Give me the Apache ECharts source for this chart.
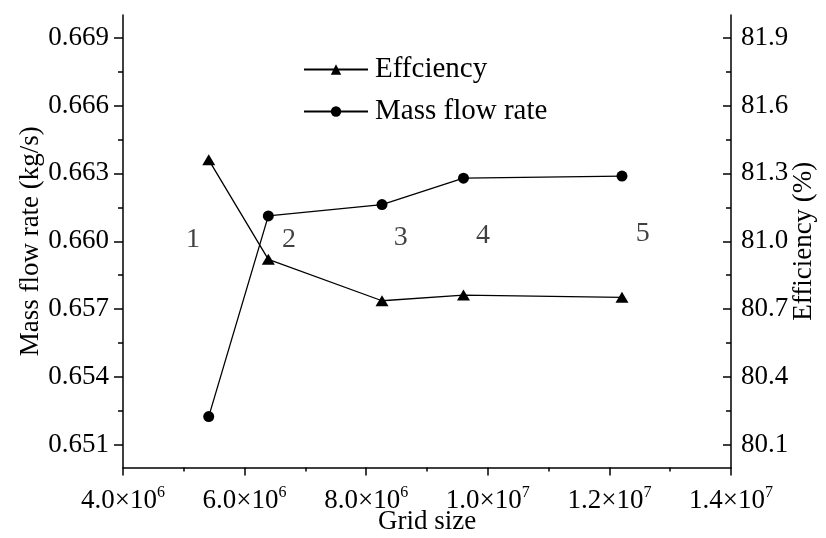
<!DOCTYPE html>
<html><head><meta charset="utf-8">
<script src="https://cdn.jsdelivr.net/npm/echarts@6/dist/echarts.min.js"></script>
<style>html,body{margin:0;padding:0;background:#fff}#c{width:826px;height:538px}</style>
</head><body><div id="c"></div>
<script>
// ---- data ----
const gridSize   = [5.41e6, 6.39e6, 8.26e6, 9.60e6, 1.2207e7];
const massFlow   = [0.65225, 0.66112, 0.66162, 0.66279, 0.66288];
const efficiency = [81.36, 80.92, 80.737, 80.762, 80.752];
const caseLabels = ['1', '2', '3', '4', '5'];
const caseLabelX = [5.15e6, 6.73e6, 8.57e6, 9.92e6, 1.255e7];
const caseLabelY = [0.66009, 0.66009, 0.66016, 0.66026, 0.66034];
const massTicks      = [0.651, 0.654, 0.657, 0.660, 0.663, 0.666, 0.669];
const massMinorTicks = [0.6525, 0.6555, 0.6585, 0.6615, 0.6645, 0.6675];
const effTicks       = [80.1, 80.4, 80.7, 81.0, 81.3, 81.6, 81.9];
const effMinorTicks  = [80.25, 80.55, 80.85, 81.15, 81.45, 81.75];

const FONT = '"Liberation Serif", "Times New Roman", serif';
const BLACK = '#000';

function sciLabel(v) {
  const e = Math.floor(Math.log10(v) + 1e-9);
  const m = (v / Math.pow(10, e)).toFixed(1);
  return m + '×10{s|' + e + '}';
}

const chart = echarts.init(document.getElementById('c'), null, {renderer: 'canvas'});
const axisLineStyle = {color: BLACK, width: 1.5};

const option = {
  backgroundColor: '#fff',
  animation: false,
  grid: {left: 123, right: 95, top: 15, bottom: 70.5, containLabel: false, outerBoundsMode: 'none'},
  legend: {
    data: ['Effciency', 'Mass flow rate'],
    orient: 'vertical',
    left: 298, top: 50,
    itemWidth: 64, itemHeight: 13, itemGap: 13,
    textStyle: {fontFamily: FONT, fontSize: 29, color: BLACK, padding: [0, 0, 0, 2]}
  },
  xAxis: {
    type: 'value', min: 4e6, max: 1.4e7, interval: 2e6,
    name: 'Grid size', nameLocation: 'middle', nameGap: 41, nameMoveOverlap: false,
    nameTextStyle: {fontFamily: FONT, fontSize: 27, color: BLACK},
    axisLine: {show: true, lineStyle: axisLineStyle},
    axisTick: {show: true, length: 8, lineStyle: {color: BLACK, width: 1.5}},
    minorTick: {show: true, splitNumber: 2, length: 4, lineStyle: {color: BLACK, width: 1.5}},
    splitLine: {show: false},
    axisLabel: {
      margin: 17, fontFamily: FONT, fontSize: 27, color: BLACK,
      formatter: sciLabel,
      rich: {s: {fontFamily: FONT, fontSize: 16, color: BLACK, padding: [0, 0, 17, 0]}}
    }
  },
  yAxis: [
    {
      type: 'value', position: 'left', min: 0.650, max: 0.670,
      name: 'Mass flow rate (kg/s)', nameLocation: 'middle', nameGap: 79, nameMoveOverlap: false,
      nameTextStyle: {fontFamily: FONT, fontSize: 27, color: BLACK},
      axisLine: {show: true, lineStyle: axisLineStyle},
      axisTick: {show: true, length: 9, customValues: massTicks, lineStyle: {color: BLACK, width: 1.5}},
      axisLabel: {show: true, customValues: massTicks, margin: 14, fontFamily: FONT, fontSize: 27, color: BLACK,
        formatter: v => v.toFixed(3)},
      splitLine: {show: false}
    },
    {
      type: 'value', position: 'right', min: 80.0, max: 82.0,
      name: 'Efficiency (%)', nameLocation: 'middle', nameGap: 59, nameMoveOverlap: false,
      nameTextStyle: {fontFamily: FONT, fontSize: 27, color: BLACK},
      axisLine: {show: true, lineStyle: axisLineStyle},
      axisTick: {show: true, inside: true, length: 8, customValues: effTicks, lineStyle: {color: BLACK, width: 1.5}},
      axisLabel: {show: true, customValues: effTicks, margin: 10, fontFamily: FONT, fontSize: 27, color: BLACK,
        formatter: v => v.toFixed(1)},
      splitLine: {show: false}
    },
    {
      type: 'value', position: 'left', offset: 0, min: 0.650, max: 0.670,
      axisLine: {show: false},
      axisTick: {show: true, length: 5, customValues: massMinorTicks, lineStyle: {color: BLACK, width: 1.5}},
      axisLabel: {show: false},
      splitLine: {show: false}
    },
    {
      type: 'value', position: 'right', offset: 0, min: 80.0, max: 82.0,
      axisLine: {show: false},
      axisTick: {show: true, inside: true, length: 5, customValues: effMinorTicks, lineStyle: {color: BLACK, width: 1.5}},
      axisLabel: {show: false},
      splitLine: {show: false}
    }
  ],
  series: [
    {
      name: 'Effciency', type: 'line', yAxisIndex: 1,
      data: gridSize.map((x, i) => [x, efficiency[i]]),
      symbol: 'triangle', symbolSize: [13, 11],
      lineStyle: {color: BLACK, width: 1.3},
      itemStyle: {color: BLACK},
      z: 3
    },
    {
      name: 'Mass flow rate', type: 'line', yAxisIndex: 0,
      data: gridSize.map((x, i) => [x, massFlow[i]]),
      symbol: 'circle', symbolSize: 11,
      lineStyle: {color: BLACK, width: 1.3},
      itemStyle: {color: BLACK},
      z: 3
    },
    {
      name: 'cases', type: 'scatter', yAxisIndex: 0, silent: true,
      symbolSize: 1, itemStyle: {color: 'rgba(0,0,0,0)'},
      data: caseLabelX.map((x, i) => ({value: [x, caseLabelY[i]], name: caseLabels[i]})),
      label: {show: true, position: 'inside', formatter: p => p.name,
        fontFamily: FONT, fontSize: 28, color: '#111'}
    }
  ]
};
chart.setOption(option);
</script></body></html>
